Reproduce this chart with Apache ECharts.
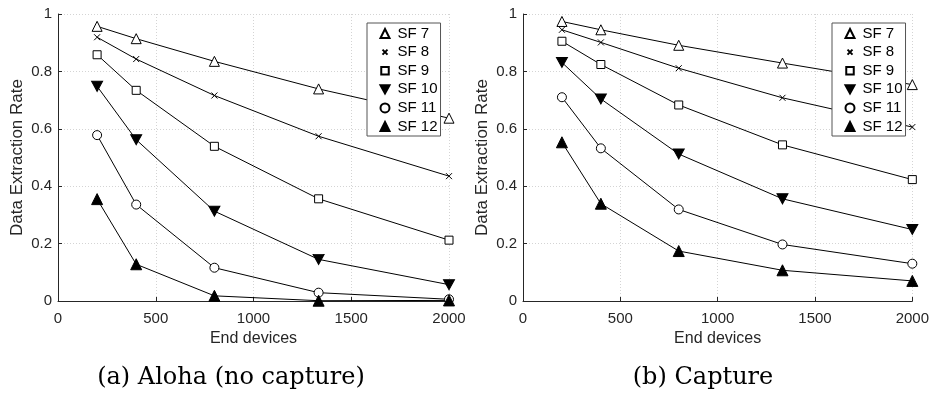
<!DOCTYPE html>
<html>
<head>
<meta charset="utf-8">
<script src="https://cdn.jsdelivr.net/npm/echarts@6/dist/echarts.min.js"></script>
<style>
  html, body { margin: 0; padding: 0; background: #fff; }
  #chart { width: 932px; height: 394px; }
</style>
</head>
<body>
<div id="chart"></div>
<script>
  // end devices
  const devices = [200, 400, 800, 1333, 2000]
  const sfNames = ['SF 7', 'SF 8', 'SF 9', 'SF 10', 'SF 11', 'SF 12']

  // (a) Aloha (no capture)
  const alohaSF7 = [0.957, 0.914, 0.835, 0.739, 0.637]
  const alohaSF8 = [0.919, 0.843, 0.716, 0.574, 0.435]
  const alohaSF9 = [0.858, 0.734, 0.539, 0.356, 0.212]
  const alohaSF10 = [0.748, 0.562, 0.313, 0.145, 0.057]
  const alohaSF11 = [0.578, 0.336, 0.116, 0.029, 0.006]
  const alohaSF12 = [0.355, 0.128, 0.018, 0.001, 0.002]

  // (b) Capture
  const captureSF7 = [0.974, 0.945, 0.891, 0.829, 0.754]
  const captureSF8 = [0.945, 0.901, 0.811, 0.708, 0.606]
  const captureSF9 = [0.905, 0.824, 0.683, 0.544, 0.423]
  const captureSF10 = [0.831, 0.704, 0.512, 0.356, 0.249]
  const captureSF11 = [0.710, 0.532, 0.319, 0.197, 0.130]
  const captureSF12 = [0.553, 0.339, 0.174, 0.107, 0.070]

  const yTicks = ['0', '0.2', '0.4', '0.6', '0.8', '1']
  const xTicks = ['0', '500', '1000', '1500', '2000']

  const alohaData = [alohaSF7, alohaSF8, alohaSF9, alohaSF10, alohaSF11, alohaSF12]
  const captureData = [captureSF7, captureSF8, captureSF9, captureSF10, captureSF11, captureSF12]

  const axisColor = '#262626'
  const sans = 'Liberation Sans'

  // marker for each SF
  const crossPath = 'path://M0,0L10,10M0,10L10,0'
  // same cross with empty margin so the legend icon stays small
  const crossIcon = 'path://M-4,-4M0,0L10,10M0,10L10,0M14,14'
  const downTri = 'path://M0,0L10,0L5,9Z'
  const markers = [
    { symbol: 'triangle', icon: 'triangle', fill: '#fff', size: 10 },
    { symbol: crossPath, icon: crossIcon, fill: 'none', size: 6 },
    { symbol: 'rect', icon: 'path://M-1,-1M0,0L10,0L10,10L0,10Z M11,11', fill: '#fff', size: 8 },
    { symbol: downTri, icon: downTri, fill: '#000', size: [11, 10] },
    { symbol: 'circle', icon: 'circle', fill: '#fff', size: 9 },
    { symbol: 'triangle', icon: 'triangle', fill: '#000', size: 11 }
  ]

  function makeSeries(data, idx) {
    return data.map((vals, i) => ({
      name: sfNames[i],
      type: 'line',
      xAxisIndex: idx,
      yAxisIndex: idx,
      data: devices.map((d, j) => [d, vals[j]]),
      symbol: markers[i].symbol,
      symbolSize: markers[i].size,
      showAllSymbol: true,
      silent: true,
      animation: false,
      lineStyle: { color: '#000', width: 1 },
      itemStyle: { color: markers[i].fill, borderColor: '#000', borderWidth: 1 }
    }))
  }

  function makeXAxis(idx) {
    return {
      type: 'value', gridIndex: idx, min: 0, max: 2000, interval: 500,
      name: 'End devices', nameLocation: 'middle', nameGap: 29,
      nameTextStyle: { fontFamily: sans, fontSize: 16, color: axisColor },
      axisLine: { lineStyle: { color: axisColor, width: 1 } },
      axisTick: { inside: true, length: 4, lineStyle: { color: axisColor } },
      axisLabel: {
        fontFamily: sans, fontSize: 15, color: axisColor, margin: 10,
        formatter: v => xTicks[Math.round(v / 500)]
      },
      splitLine: { show: true, lineStyle: { color: '#d4d4d4', type: [1, 2] } }
    }
  }

  function makeYAxis(idx) {
    return {
      type: 'value', gridIndex: idx, min: 0, max: 1, interval: 0.2,
      name: 'Data Extraction Rate', nameLocation: 'middle', nameGap: 32,
      nameTextStyle: { fontFamily: sans, fontSize: 17, color: axisColor },
      axisLine: { show: true, lineStyle: { color: axisColor, width: 1 } },
      axisTick: { show: true, inside: true, length: 4, lineStyle: { color: axisColor } },
      axisLabel: {
        fontFamily: sans, fontSize: 15, color: axisColor, margin: 6,
        formatter: v => yTicks[Math.round(v / 0.2)]
      },
      splitLine: { show: true, lineStyle: { color: '#d4d4d4', type: [1, 2] } }
    }
  }

  function makeLegend(left) {
    return {
      left: left, top: 23,
      orient: 'vertical',
      backgroundColor: '#fff',
      borderColor: '#555',
      borderWidth: 1,
      padding: [3, 3, 2, 11],
      itemWidth: 9, itemHeight: 9, itemGap: 3.6,
      selectedMode: false,
      textStyle: { fontFamily: sans, fontSize: 15, lineHeight: 15, color: '#000', padding: [0, 0, 0, 3] },
      data: sfNames.map((n, i) => ({ name: n, icon: markers[i].icon }))
    }
  }

  const chart = echarts.init(document.getElementById('chart'))
  chart.setOption({
    backgroundColor: '#fff',
    animation: false,
    grid: [
      { left: 58, right: 483, top: 14, bottom: 93 },
      { left: 523, right: 19, top: 14, bottom: 93 }
    ],
    xAxis: [makeXAxis(0), makeXAxis(1)],
    yAxis: [makeYAxis(0), makeYAxis(1)],
    legend: [makeLegend(367), makeLegend(832)],
    series: makeSeries(alohaData, 0).concat(makeSeries(captureData, 1)),
    graphic: [
      { type: 'text', x: 231, y: 366,
        style: { text: '(a) Aloha (no capture)', font: '24px "DejaVu Serif"', fill: '#000', align: 'center' } },
      { type: 'text', x: 703, y: 366,
        style: { text: '(b) Capture', font: '24px "DejaVu Serif"', fill: '#000', align: 'center' } }
    ]
  })
</script>
</body>
</html>
